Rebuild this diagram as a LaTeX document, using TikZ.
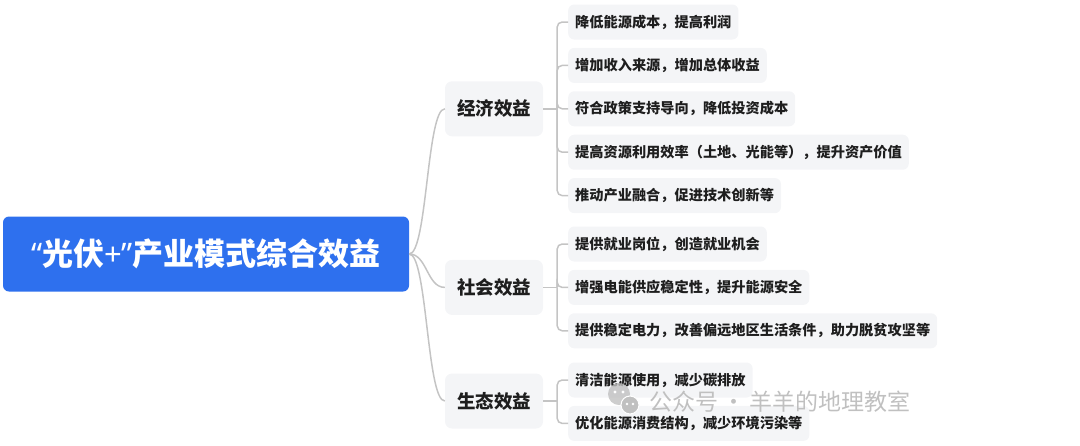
\documentclass[tikz,border=0pt]{standalone}
\usepackage{fontspec}
\newfontfamily\cjkfont{Noto Sans CJK SC}
\newfontfamily\latinfont{Noto Sans}
\usetikzlibrary{positioning}
\definecolor{rootblue}{RGB}{46,112,238}
\definecolor{boxgray}{RGB}{244,245,247}
\definecolor{linegray}{RGB}{196,196,196}
\definecolor{txtdark}{RGB}{30,30,30}
\definecolor{markgray}{RGB}{192,192,192}
\tikzset{
  rootbox/.style={rectangle, rounded corners=6pt, fill=rootblue, text=white,
                  font=\cjkfont\bfseries\fontsize{31}{31}\selectfont,
                  minimum width=406pt, minimum height=75pt, inner sep=0pt},
  topic/.style={rectangle, rounded corners=7pt, fill=boxgray, text=txtdark,
                font=\cjkfont\bfseries\fontsize{18.5}{18.5}\selectfont,
                minimum width=98pt, minimum height=55pt, inner sep=0pt},
  leaf/.style={rectangle, rounded corners=6pt, fill=boxgray, text=txtdark,
               font=\cjkfont\bfseries\fontsize{14.2}{14.2}\selectfont,
               minimum height=35pt, inner xsep=7pt, inner ysep=0pt},
  branch/.style={draw=linegray, line width=1.5pt},
  twig/.style={draw=linegray, line width=1.5pt, rounded corners=5pt},
}

\begin{document}
\begin{tikzpicture}[x=1pt, y=-1pt, node distance=8pt]
  \useasboundingbox (0,0) rectangle (1080,445);

  \node[rootbox] (root) at (206,254)
    {{\latinfont\bfseries “}光伏{\latinfont\bfseries +”}产业模式综合效益};

  % economic
  \node[leaf, anchor=west] (e1) at (568,22) {降低能源成本，提高利润};
  \node[leaf, below=of e1.south west, anchor=north west] (e2) {增加收入来源，增加总体收益};
  \node[leaf, below=of e2.south west, anchor=north west] (e3) {符合政策支持导向，降低投资成本};
  \node[leaf, below=of e3.south west, anchor=north west] (e4) {提高资源利用效率（土地、光能等），提升资产价值};
  \node[leaf, below=of e4.south west, anchor=north west] (e5) {推动产业融合，促进技术创新等};
  \node[topic] (econ) at (494,0 |- e3.west) {经济效益};

  % social
  \node[leaf, anchor=west] (s1) at (568,244) {提供就业岗位，创造就业机会};
  \node[leaf, below=of s1.south west, anchor=north west] (s2) {增强电能供应稳定性，提升能源安全};
  \node[leaf, below=of s2.south west, anchor=north west] (s3) {提供稳定电力，改善偏远地区生活条件，助力脱贫攻坚等};
  \node[topic] (soc) at (494,0 |- s2.west) {社会效益};

  % ecological
  \node[leaf, anchor=west] (g1) at (568,380) {清洁能源使用，减少碳排放};
  \node[leaf, below=of g1.south west, anchor=north west] (g2) {优化能源消费结构，减少环境污染等};
  \node[topic] (eco) at (494,401) {生态效益};

  \foreach \t in {econ,soc,eco}
    \draw[branch] (root.east) .. controls +(18,0) and +(-18,0) .. (\t.west);

  \coordinate (ej) at ([xshift=14pt]econ.east);
  \coordinate (sj) at ([xshift=14pt]soc.east);
  \coordinate (gj) at ([xshift=14pt]eco.east);
  \draw[branch] (econ.east) -- (ej);
  \draw[branch] (soc.east) -- (sj);
  \draw[branch] (eco.east) -- (gj);
  \foreach \n in {e1,e2,e3,e4,e5} \draw[twig] (ej) |- (\n.west);
  \foreach \n in {s1,s2,s3} \draw[twig] (sj) |- (\n.west);
  \foreach \n in {g1,g2} \draw[twig] (gj) |- (\n.west);

  % watermark
  \fill[markgray, opacity=.8] (619,394) circle (11);
  \fill[markgray, draw=white, line width=1pt] (630,405) circle (9);
  \fill[white] (615,392) circle (1.6) (623,392) circle (1.6)
               (627,404) circle (1.3) (633,404) circle (1.3);
  \node[font=\cjkfont\fontsize{23}{23}\selectfont, text=markgray, anchor=west]
    (mark) at (646,402) {公众号\,·\,羊羊的地理教室};
\end{tikzpicture}
\end{document}
